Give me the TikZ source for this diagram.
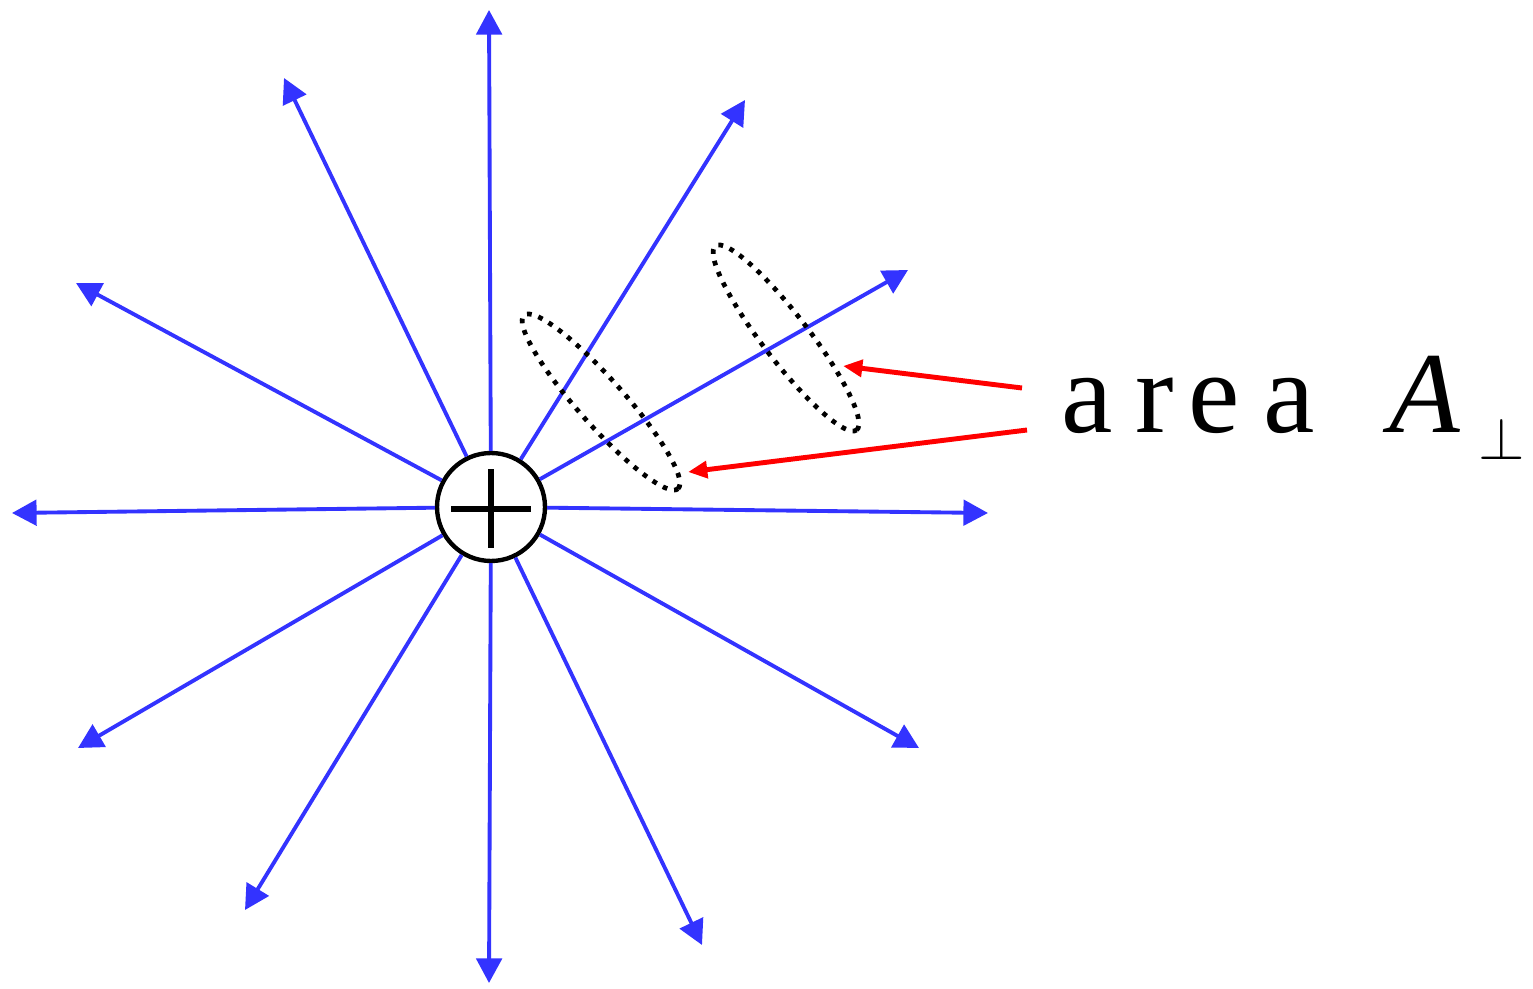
\documentclass[tikz,border=0pt]{standalone}
\usepackage{fix-cm}
\usepackage{fontspec}
\setmainfont{Liberation Serif}
\usetikzlibrary{arrows.meta}
\definecolor{fieldblue}{RGB}{51,51,255}

\begin{document}
\begin{tikzpicture}[x=0.02cm,y=-0.02cm]
\tikzstyle{every node}+=[inner sep=0pt]
\tikzstyle{fieldline}=[fieldblue,line width=2.2pt,-{Triangle[length=14pt,width=14.5pt]}]
\tikzstyle{pointer}=[red,line width=2.8pt,-{Triangle[length=11pt,width=9.5pt]}]
\tikzstyle{patch}=[black,line width=2.7pt,dash pattern=on 2.7pt off 4pt]
\useasboundingbox (0,0) rectangle (1533,989);
\node [circle,draw,line width=2.5pt,fill=white,minimum size=2.16cm] (q) at (491,507) {};
\draw [line width=3.2pt] (q.center) ++(-40,2) -- ++(80,0);
\draw [line width=3.2pt] (q.center) ++(0,-38) -- ++(0,79);
\coordinate (n) at (489,10);
\coordinate (s) at (489,983);
\coordinate (w) at (12,513);
\coordinate (e) at (988,513);
\coordinate (nnw) at (284,78);
\coordinate (nne) at (745,100);
\coordinate (ene) at (908,270);
\coordinate (wnw) at (76,283);
\coordinate (wsw) at (78,748);
\coordinate (ssw) at (245,910);
\coordinate (sse) at (702,945);
\coordinate (ese) at (919,748);
\foreach \t in {n,s,w,e,nnw,nne,ene,wnw,wsw,ssw,sse,ese}
  \draw [fieldline] (q) -- (\t);
\draw [patch,rotate around={-48.4:(601,402)}] (601,402) ellipse [x radius=2.32cm,y radius=0.46cm];
\draw [patch,rotate around={-52.5:(786,338)}] (786,338) ellipse [x radius=2.32cm,y radius=0.46cm];
\node [anchor=base west] (word) at (1061,432) {\fontsize{65.8}{70}\selectfont a\hspace{13pt}r\hspace{8pt}e\hspace{14pt}a};
\node [anchor=base west] (sym) at (1389,432) {\fontsize{65.8}{70}\selectfont\textit{A}\hspace{10.5pt}\raisebox{-15.9pt}{\fontsize{34}{36}\selectfont$\perp$}};
\coordinate (r1) at (1022,388);
\coordinate (h1) at (843,366);
\coordinate (r2) at (1027,430);
\coordinate (h2) at (688,472);
\draw [pointer] (r1) -- (h1);
\draw [pointer] (r2) -- (h2);
\end{tikzpicture}
\end{document}
